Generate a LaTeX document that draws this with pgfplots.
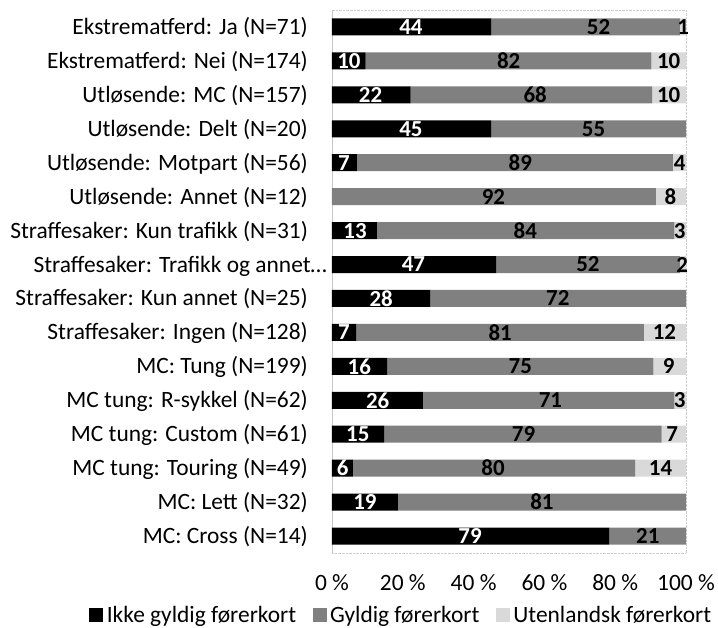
\documentclass[border=0pt]{standalone}
\usepackage{fontspec}
\setmainfont{Carlito}
\usepackage{pgfplots}
\pgfplotsset{compat=1.18}
\usepackage{pgfplotstable}

\definecolor{ikke}{HTML}{000000}
\definecolor{gyldig}{HTML}{808080}
\definecolor{utl}{HTML}{D9D9D9}
\newcommand\fs{\fontsize{23.5}{28}\selectfont}

% shares in percent, y=16 is the top bar
\pgfplotstableread{
y  ikke gyldig utl
1  78.3 21.7  0.0
2  18.6 81.4  0.0
3   5.9 79.7 14.4
4  14.7 78.4  6.9
5  25.7 71.0  3.3
6  15.6 75.2  9.2
7   6.8 81.3 11.9
8  27.8 72.2  0.0
9  46.4 51.9  1.7
10 12.7 84.0  3.3
11  0.0 91.5  8.5
12  7.0 89.3  3.7
13 45.0 55.0  0.0
14 22.2 68.2  9.6
15  9.5 80.7  9.8
16 45.0 53.3  1.7
}\bardata

\begin{document}
\begin{tikzpicture}[x=1bp,y=1bp]
\useasboundingbox (-332,-75) rectangle (386,553);
\begin{axis}[
  at={(0,0)}, anchor=south west,
  scale only axis, width=354bp, height=543bp,
  xbar stacked, bar width=0.5,
  xmin=0, xmax=100, ymin=0.5, ymax=16.5,
  ytick={1,...,16},
  yticklabels={{MC: Cross (N=14)},{MC: Lett (N=32)},{MC tung: Touring (N=49)},
    {MC tung: Custom (N=61)},{MC tung: R-sykkel (N=62)},{MC: Tung (N=199)},
    {Straffesaker: Ingen (N=128)},{Straffesaker: Kun annet (N=25)},
    {Straffesaker: Trafikk og annet…\hspace*{-19bp}},
    {Straffesaker: Kun trafikk (N=31)},{Utløsende: Annet (N=12)},
    {Utløsende: Motpart (N=56)},{Utløsende: Delt (N=20)},{Utløsende: MC (N=157)},
    {Ekstrematferd: Nei (N=174)},{Ekstrematferd: Ja (N=71)}},
  xtick={0,20,40,60,80,100},
  xticklabels={0~\%,20~\%,40~\%,60~\%,80~\%,100~\%},
  major tick length=0pt,
  axis line style={gray!40, densely dotted},
  tick label style={font=\fs, inner sep=0pt},
  yticklabel style={anchor=base east, xshift=-24bp, yshift=-7.5bp},
  xticklabel style={anchor=base, yshift=-37bp},
  legend columns=3,
  legend cell align=left,
  legend image code/.code={\fill[#1] (0bp,-7bp) rectangle (14bp,7bp);},
  legend style={at={(0.1935,-0.1150)}, anchor=center, draw=none, fill=none,
    inner sep=0pt, font=\fs, nodes={inner sep=0.5bp},
    /tikz/every odd column/.append style={column sep=3bp},
    /tikz/every even column/.append style={column sep=16bp}},
]
\addplot[fill=ikke, draw=none] table[x=ikke, y=y] {\bardata};
\addplot[fill=gyldig, draw=none] table[x=gyldig, y=y] {\bardata};
\addplot[fill=utl, draw=none] table[x=utl, y=y] {\bardata};
\legend{Ikke gyldig førerkort, Gyldig førerkort, Utenlandsk førerkort}
\draw[gray!45] (rel axis cs:0,0) -- (rel axis cs:0,1);
\end{axis}

% value labels, placed where the chart shows them
\begin{axis}[
  at={(0,0)}, anchor=south west,
  scale only axis, width=354bp, height=543bp,
  xmin=0, xmax=100, ymin=0.5, ymax=16.5, hide axis,
  point meta=explicit symbolic,
  nodes near coords,
  nodes near coords style={anchor=center, inner sep=0pt,
    font=\fontsize{23}{27}\selectfont\bfseries},
]
\addplot[only marks, mark=text, text mark={},
  nodes near coords style={text=white}] coordinates {
  (22.3,16)[44] (4.8,15)[10] (10.9,14)[22] (22.3,13)[45] (3.4,12)[7]
  (6.5,10)[13] (23.0,9)[47] (13.9,8)[28] (3.4,7)[7] (7.7,6)[16]
  (12.9,5)[26] (7.3,4)[15] (3.0,3)[6] (9.3,2)[19] (39.0,1)[79]
};
\addplot[only marks, mark=text, text mark={},
  nodes near coords style={text=black}] coordinates {
  (75.3,16)[52] (49.9,15)[82] (57.4,14)[68] (73.9,13)[55] (53.2,12)[89]
  (45.6,11)[92] (54.6,10)[84] (72.3,9)[52] (63.8,8)[72] (47.5,7)[81]
  (53.2,6)[75] (61.7,5)[71] (54.1,4)[79] (45.5,3)[80] (59.3,2)[81] (89.2,1)[21]
  (99.2,16)[1] (95.1,15)[10] (95.1,14)[10] (98.2,12)[4] (95.6,11)[8]
  (98.2,10)[3] (98.9,9)[2] (93.9,7)[12] (95.1,6)[9] (98.2,5)[3]
  (96.1,4)[7] (92.8,3)[14]
};
\end{axis}
\end{tikzpicture}
\end{document}
